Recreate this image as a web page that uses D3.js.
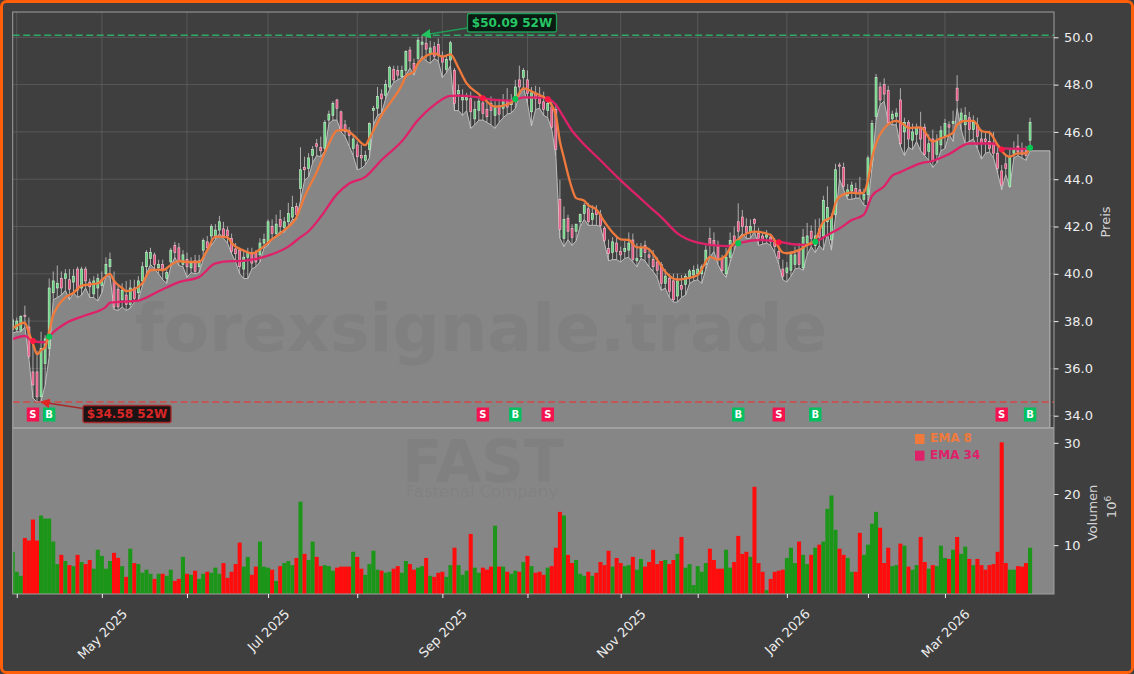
<!DOCTYPE html>
<html>
<head>
<meta charset="utf-8">
<script src="https://cdn.jsdelivr.net/npm/d3@7"></script>
<style>
  html, body { margin: 0; padding: 0; background: #3f3f3f; }
  svg { display: block; font-family: "DejaVu Sans", sans-serif; }
</style>
</head>
<body>
<svg id="chart" width="1134" height="674"></svg>
<script>
// daily bars
var opens = [37.65,37.65,37.6,38.25,37.75,35.85,35.85,34.8,36.2,36.85,
  39.2,39.4,39.8,39.8,39.75,39.65,40.2,39.4,40.2,39.65,
  39.15,39.4,39.5,40.0,40.3,39.7,39.35,38.9,39.1,38.7,
  39.4,39.2,39.7,40.3,40.65,40.8,40.25,40.4,39.8,40.5,
  41.2,41.1,40.4,40.6,40.25,40.55,40.3,41.0,41.35,41.6,
  41.6,41.85,41.9,41.85,41.5,41.05,41.0,40.2,40.7,40.9,
  40.9,40.8,41.3,41.35,42.0,41.7,42.3,41.95,42.2,42.4,
  42.85,43.6,44.5,44.45,45.0,45.5,45.35,45.3,46.5,46.7,
  47.35,46.85,46.3,46.05,45.3,45.45,45.0,44.8,45.25,46.9,
  47.0,47.6,47.55,47.9,48.65,48.6,48.33,48.6,49.46,48.9,
  49.1,49.7,49.75,49.3,49.6,49.7,49.2,48.64,49.04,48.6,
  47.6,47.35,47.35,47.4,46.55,46.9,47.23,46.95,47.2,46.7,
  47.1,47.0,47.3,47.15,47.35,48.2,48.3,48.2,46.85,47.63,
  47.5,47.27,46.9,47.06,46.95,43.15,41.5,42.35,41.92,41.8,
  42.2,42.55,42.75,42.3,42.7,42.5,41.93,41.07,40.9,41.3,
  40.95,40.95,41.0,41.43,40.55,40.72,41.2,40.8,40.6,40.5,
  40.4,39.6,39.8,39.7,39.06,39.5,39.55,39.85,39.95,40.0,
  40.0,40.4,41.5,41.4,41.2,40.6,40.0,40.7,41.6,42.2,
  42.4,42.0,41.75,42.3,41.7,41.6,41.55,41.55,41.4,40.95,
  40.2,40.05,40.15,40.4,41.0,40.25,41.3,41.8,41.2,41.9,
  41.6,42.2,41.43,42.5,44.6,44.5,43.3,43.5,43.6,43.55,
  43.15,43.35,44.75,46.65,47.9,48.0,47.75,46.55,46.65,47.35,
  46.0,46.4,45.65,45.9,46.2,46.2,45.17,45.7,45.05,45.45,
  45.85,46.3,46.35,47.85,46.5,46.3,46.6,46.1,46.3,45.7,
  45.7,45.6,45.5,45.1,44.35,44.65,43.7,45.1,45.4,45.3,45.2,45.65];

var closes = [38.05,38.0,38.2,38.2,36.5,35.3,34.8,36.85,37.25,39.4,
  39.7,39.6,39.4,40.0,39.35,39.9,39.3,40.2,39.7,39.45,
  39.7,39.8,39.75,40.4,40.6,38.6,38.6,39.3,38.7,39.4,
  38.95,39.7,40.3,40.9,40.9,40.4,40.4,40.2,40.05,41.0,
  40.9,40.55,40.8,40.3,40.45,40.1,40.55,41.4,41.1,42.0,
  41.85,42.2,41.6,41.6,40.95,40.85,40.3,40.7,40.9,40.45,
  40.5,41.3,41.45,42.2,41.7,42.1,42.0,42.2,42.55,42.8,
  42.5,44.4,44.4,44.9,45.25,45.38,45.2,46.4,46.75,47.2,
  47.0,46.1,46.0,45.85,45.7,44.95,44.9,45.0,46.35,47.0,
  47.5,47.4,48.0,48.73,48.2,48.4,48.6,49.4,49.0,48.6,
  49.88,49.8,49.5,49.55,49.2,49.25,48.95,49.07,49.77,47.2,
  47.75,47.45,47.45,46.85,46.95,47.3,46.78,46.64,46.9,47.07,
  46.75,47.3,47.05,47.35,47.9,47.9,48.6,47.63,47.65,47.4,
  47.2,46.95,47.2,46.2,45.26,41.88,42.3,41.8,41.54,42.1,
  42.5,42.9,42.2,42.55,42.5,42.05,41.4,40.85,41.35,40.95,
  40.8,41.07,41.3,40.6,40.65,41.07,40.9,40.7,40.3,40.15,
  39.6,39.9,39.25,38.9,39.7,39.35,39.9,40.12,40.15,40.2,
  40.3,41.0,41.2,41.2,40.65,40.13,40.7,41.4,41.3,41.8,
  42.0,41.75,42.0,42.13,41.5,41.4,41.65,41.35,41.15,40.65,
  39.9,40.25,40.8,40.8,40.4,41.55,41.6,41.5,41.6,41.55,
  43.1,42.8,42.4,44.4,44.55,43.7,43.55,43.75,43.4,43.4,
  43.35,44.9,46.35,48.3,47.35,47.6,46.4,46.75,46.8,45.5,
  46.4,45.7,46.0,46.15,45.7,45.05,45.5,44.75,45.6,46.05,
  46.35,46.2,46.45,47.32,46.8,46.7,46.1,46.4,45.8,45.5,
  45.6,45.3,45.1,44.45,43.75,44.45,44.95,45.3,45.15,45.05,45.0,46.4];

var highs = [38.1,38.15,38.25,38.65,38.15,37.2,36.75,37.55,37.4,39.8,
  40.1,40.35,40.1,40.2,40.2,40.2,40.3,40.3,40.3,39.8,
  39.9,40.0,40.1,40.7,40.9,40.1,39.5,39.6,39.7,39.75,
  39.75,39.9,40.5,41.0,41.1,40.9,40.6,40.6,40.3,41.1,
  41.35,41.3,41.0,40.9,40.7,40.8,40.8,41.5,41.6,42.1,
  42.1,42.45,42.2,42.0,41.7,41.3,41.1,41.0,41.1,41.1,
  41.0,41.5,41.7,42.3,42.3,42.5,42.7,42.4,43.0,43.3,
  43.0,45.35,44.95,45.1,45.4,45.7,45.8,46.5,46.9,47.3,
  47.4,46.9,46.5,46.2,45.9,45.6,45.45,45.2,46.4,47.1,
  47.9,47.8,48.2,48.8,48.8,48.8,48.8,49.45,49.6,49.1,
  50.0,50.09,50.0,49.85,49.8,49.95,49.4,49.2,49.85,48.7,
  48.0,47.8,47.65,47.7,47.3,47.5,47.5,47.4,47.5,47.3,
  47.4,47.6,47.85,47.6,48.2,48.8,48.7,48.6,47.9,47.95,
  47.9,47.7,47.4,47.3,47.2,43.97,42.85,42.5,42.1,42.1,
  42.55,43.0,43.0,42.9,42.9,42.7,42.0,41.45,41.55,41.6,
  41.15,41.4,41.75,41.7,41.3,41.3,41.4,41.1,41.0,40.7,
  40.5,40.2,40.0,40.0,40.0,39.95,40.0,40.2,40.35,40.4,
  40.4,41.2,41.95,41.75,41.4,40.8,41.1,41.75,42.0,42.98,
  42.7,42.35,42.3,42.35,41.95,41.75,41.85,41.7,41.5,41.2,
  40.6,40.5,40.95,41.15,41.3,41.9,42.15,42.05,42.3,42.35,
  43.3,43.7,42.55,44.65,44.7,44.7,43.8,43.9,43.85,44.1,
  43.6,45.0,46.5,48.45,48.1,48.27,47.95,46.9,47.0,47.85,
  46.6,46.5,46.35,46.35,46.85,46.35,45.9,46.1,45.9,46.25,
  46.55,46.45,46.9,48.4,47.0,47.05,46.85,46.7,46.6,46.1,
  46.0,46.05,46.0,45.35,44.6,45.0,45.3,45.6,45.9,45.55,45.4,46.6];

var lows = [37.5,37.55,37.55,37.75,36.4,34.75,34.58,34.6,35.3,36.5,
  38.9,39.0,39.1,39.3,38.9,39.2,39.0,39.1,39.4,39.0,
  39.0,38.85,39.2,39.9,39.9,38.5,38.45,38.6,38.45,38.55,
  38.8,38.9,39.5,40.0,40.4,40.2,40.0,39.75,39.6,40.3,
  40.7,40.35,40.3,39.85,40.05,40.0,40.05,40.6,41.0,41.2,
  41.45,41.7,41.5,41.3,40.85,40.5,40.0,39.8,39.8,40.2,
  40.3,40.5,41.1,41.2,41.5,41.6,41.8,41.75,42.0,42.3,
  42.3,43.1,43.95,44.1,44.7,45.0,44.95,45.2,46.35,46.5,
  46.5,46.0,45.8,45.4,45.0,44.4,44.45,44.6,44.9,46.3,
  46.7,46.8,47.4,47.8,48.1,48.2,48.3,48.4,48.7,48.4,
  48.9,49.2,49.0,48.9,49.1,49.0,48.3,48.5,48.8,46.9,
  46.9,46.7,46.9,46.15,46.3,46.5,46.5,46.4,46.3,46.15,
  46.4,46.6,46.75,46.8,47.0,47.55,47.9,47.2,46.25,46.95,
  47.0,46.7,46.6,46.1,45.0,41.5,41.15,41.45,41.2,41.4,
  42.0,42.3,42.05,42.05,42.05,42.0,41.3,40.55,40.6,40.6,
  40.5,40.65,40.7,40.5,40.3,40.65,40.55,40.3,40.1,39.85,
  39.3,39.4,39.0,38.8,38.8,39.0,39.1,39.6,39.7,39.75,
  39.6,40.2,40.7,40.95,40.4,40.05,39.85,40.5,41.0,41.5,
  41.7,41.5,41.5,41.8,41.2,41.25,41.3,41.2,40.9,40.4,
  39.75,39.65,39.9,40.2,40.25,40.15,40.8,41.15,40.9,41.2,
  41.0,41.7,41.0,42.4,44.0,43.55,43.15,43.15,43.2,43.2,
  42.9,42.85,44.5,46.5,47.15,47.3,46.4,46.3,46.3,45.4,
  45.0,45.35,45.25,45.6,45.2,45.0,44.8,44.5,44.7,45.2,
  45.3,45.9,45.6,47.0,46.1,45.5,45.6,45.7,45.3,44.85,
  45.1,45.15,44.9,44.25,43.55,44.2,43.65,44.9,45.0,44.9,44.8,45.2];

// millions of shares
var volumes = [8.7,4.8,4.0,11.4,10.9,15.0,10.9,15.8,15.2,15.2,
  10.7,6.3,8.1,6.9,6.1,5.9,8.1,6.7,6.3,7.1,
  5.4,9.1,7.9,5.4,6.9,8.5,7.5,5.9,3.8,9.3,
  6.5,6.3,4.6,5.2,4.4,3.4,4.4,4.4,4.0,5.2,
  3.0,3.4,7.7,4.4,4.2,5.0,3.4,4.4,4.8,4.6,
  5.6,4.4,6.5,3.6,4.8,6.3,10.5,5.8,7.7,4.2,
  5.8,10.7,5.8,5.6,5.2,3.0,5.9,6.5,6.9,6.1,
  7.5,18.5,8.3,7.1,10.7,7.7,5.9,6.1,5.9,5.0,
  5.6,5.8,5.8,5.8,8.7,7.7,5.4,4.2,6.3,8.9,
  5.2,5.0,4.6,4.8,5.4,5.9,4.6,6.9,6.3,5.2,
  5.6,5.9,7.5,4.0,3.8,4.6,4.8,3.8,6.1,9.5,
  6.1,4.2,5.0,12.2,5.6,4.6,5.6,5.2,5.8,13.8,
  5.8,5.8,4.8,4.4,5.0,4.8,6.7,7.9,5.9,4.6,
  4.8,4.2,5.6,5.9,9.5,16.5,15.8,8.1,6.5,7.1,
  4.4,4.0,4.8,4.0,4.6,6.7,6.1,8.9,5.8,7.5,
  6.5,5.9,6.1,7.7,5.2,7.3,5.8,6.7,9.1,6.3,
  6.9,7.1,6.3,7.1,8.3,11.6,5.6,6.3,2.2,5.9,
  4.8,6.5,9.3,7.1,5.4,5.4,9.1,5.6,6.7,11.8,
  8.3,8.7,7.7,21.4,6.5,4.8,1.2,3.4,4.8,5.0,
  5.2,7.5,9.5,6.5,10.7,8.1,6.3,8.1,9.5,10.1,
  10.7,17.1,19.7,13.0,9.3,8.1,7.5,4.8,4.8,12.4,
  8.1,10.1,14.2,16.5,13.4,6.5,9.5,5.9,6.1,10.3,
  9.9,5.8,5.2,6.1,11.6,6.7,5.4,6.1,5.9,9.9,
  7.5,7.3,9.1,11.6,8.3,9.7,7.3,6.1,7.3,6.1,
  5.2,6.1,6.3,8.7,30.1,6.5,5.2,5.2,5.9,5.8,6.5,9.5];

// moving averages at these bar numbers
var ema8Index = [0,3,4,5,6,7,8,9,10,11,13,15,17,19,21,24,25,27,28,30,32,34,36,37,39,41,43,46,48,50,53,54,57,59,61,64,66,67,70,72,75,78,80,82,84,87,88,91,93,96,97,99,100,104,106,108,110,112,115,117,119,122,124,126,129,132,134,135,136,137,138,139,141,142,144,146,148,150,152,154,156,157,159,161,164,166,169,170,172,174,176,177,179,183,187,188,190,191,194,196,198,200,202,203,204,207,209,210,211,212,213,215,218,220,221,224,227,229,232,233,235,237,239,241,243,245,246,248,250,251];
var ema8Values = [37.7,37.93,37.5,37.05,36.6,36.77,36.9,37.55,38.25,38.6,39.0,39.2,39.5,39.55,39.6,40.0,39.7,39.4,39.27,39.35,39.6,40.15,40.18,40.15,40.37,40.54,40.5,40.5,41.0,41.57,41.54,41.3,40.98,40.86,41.03,41.46,41.7,41.85,42.38,43.26,44.3,45.5,46.05,46.08,45.87,45.44,45.73,46.71,47.2,47.98,48.35,48.55,48.9,49.32,49.18,49.28,48.7,48.05,47.6,47.28,47.07,47.16,47.37,47.84,47.63,47.35,46.7,45.6,44.9,44.2,43.6,43.2,43.09,42.9,42.72,42.2,41.75,41.46,41.43,41.12,41.12,41.03,40.6,40.09,39.76,39.8,39.95,40.2,40.72,40.6,40.79,41.1,41.46,41.78,41.64,41.4,40.9,40.87,41.0,41.22,41.43,42.2,42.4,43.0,43.26,43.43,43.4,43.45,43.96,44.9,45.5,46.15,46.47,46.29,46.17,46.19,45.59,45.73,45.97,46.3,46.47,46.47,46.04,45.97,45.45,45.02,44.95,45.09,45.09,45.35];
var ema34Index = [0,3,5,8,9,13,18,23,24,31,36,41,46,50,54,56,62,68,71,73,76,80,83,87,91,96,100,104,108,110,115,119,123,126,131,134,136,138,140,145,150,155,158,160,164,169,176,179,184,189,192,196,199,201,204,207,210,212,215,217,219,224,227,231,236,242,244,250];
var ema34Values = [37.24,37.37,37.15,37.1,37.34,37.9,38.25,38.6,38.78,38.87,39.26,39.65,39.87,40.44,40.54,40.54,40.72,41.15,41.55,41.8,42.41,43.37,43.82,44.1,44.81,45.6,46.5,47.14,47.52,47.53,47.46,47.35,47.32,47.46,47.45,47.15,46.6,46.05,45.65,44.8,43.95,43.17,42.7,42.4,41.71,41.32,41.17,41.29,41.43,41.36,41.26,41.22,41.43,41.64,41.92,42.27,42.5,43.3,43.7,44.15,44.3,44.67,44.77,45.06,45.51,45.51,45.3,45.28];

// buy / sell crossings
var signalIndex = [5,9,116,124,132,179,189,198,244,251];
var signalType = ["S","B","S","B","S","B","S","B","S","B"];
var signalPrice = [37.16,37.34,47.42,47.39,47.38,41.29,41.33,41.36,45.26,45.33];
var signalRowPrice = 34.05;

var monthIndex = [1,22,43,63,85,106,127,150,169,191,211,230];
var monthLabels = ["","May 2025","","Jul 2025","","Sep 2025","","Nov 2025","","Jan 2026","","Mar 2026"];
var priceTicks = [34,36,38,40,42,44,46,48,50];
var volumeTicks = [10,20,30];
var high52 = 50.09, low52 = 34.58;
var areaEndIndex = 255.9;

var bg = "#3f3f3f", panel = "#868686", frame = "#a0a0a0", tickColor = "#eeeeee";
var red = "#ff1744", orange = "#f07a3c", magenta = "#de2169";
var plotLeft = 12.7, plotRight = 1054, plotTop = 12, plotMid = 428, plotBottom = 594;

var svg = d3.select("#chart");
var x = d3.scaleLinear().domain([0, 256.9]).range([plotLeft, plotRight]);
var y = d3.scaleLinear().domain([33.48, 51.07]).range([plotMid, plotTop]);
var yv = d3.scaleLinear().domain([0.45, 32.9]).range([plotBottom, plotMid]);
var barW = x(1) - x(0);

svg.append("rect").attr("width", 1134).attr("height", 674).attr("fill", bg);

svg.append("clipPath").attr("id", "plot").append("rect")
    .attr("x", plotLeft).attr("y", plotTop).attr("width", plotRight - plotLeft).attr("height", plotBottom - plotTop);

// grid
var grid = svg.append("g").attr("stroke", "#636363").attr("stroke-width", 0.7);
grid.selectAll(".gy").data(priceTicks).enter().append("line")
    .attr("x1", plotLeft).attr("x2", plotRight)
    .attr("y1", function(d) { return y(d); }).attr("y2", function(d) { return y(d); });
grid.selectAll(".gx").data(monthIndex).enter().append("line")
    .attr("y1", plotTop).attr("y2", plotMid)
    .attr("x1", function(d) { return x(d); }).attr("x2", function(d) { return x(d); });

// price area follows the lows and runs past the last bar
var areaData = lows.map(function(d, i) { return [i, d]; }).concat([[areaEndIndex, lows[lows.length - 1]]]);
svg.append("path")
    .datum(areaData)
    .attr("clip-path", "url(#plot)")
    .attr("fill", panel)
    .attr("stroke", "#bdbdbd")
    .attr("stroke-width", 1)
    .attr("d", d3.area()
        .x(function(d) { return x(d[0]); })
        .y0(plotMid)
        .y1(function(d) { return y(d[1]); }));

// volume panel
svg.append("rect")
    .attr("x", plotLeft).attr("y", plotMid).attr("width", plotRight - plotLeft).attr("height", plotBottom - plotMid)
    .attr("fill", panel);

// watermarks
var marks = svg.append("g").attr("fill", "#3c3c3c").attr("fill-opacity", 0.08).attr("text-anchor", "middle");
marks.append("text").attr("x", 481).attr("y", 351).attr("font-size", 66.5).attr("font-weight", "bold").text("forexsignale.trade");
marks.append("text").attr("x", 483).attr("y", 482).attr("font-size", 59).attr("font-weight", "bold").text("FAST");
marks.append("text").attr("x", 482).attr("y", 497).attr("font-size", 16.5).text("Fastenal Company");

// volume bars
svg.append("g").attr("clip-path", "url(#plot)")
    .selectAll("rect").data(volumes).enter().append("rect")
    .attr("x", function(d, i) { return x(i) - barW / 2; })
    .attr("width", barW)
    .attr("y", function(d) { return yv(d); })
    .attr("height", function(d) { return plotBottom - yv(d); })
    .attr("fill", function(d, i) { return closes[i] >= opens[i] ? "#1c9618" : "#ff0d0d"; });

// 52 week lines
svg.append("line").attr("x1", plotLeft).attr("x2", plotRight)
    .attr("y1", y(high52)).attr("y2", y(high52))
    .attr("stroke", "#2eaa66").attr("stroke-width", 1.6).attr("stroke-dasharray", "7,3.5");
svg.append("line").attr("x1", plotLeft).attr("x2", plotRight)
    .attr("y1", y(low52)).attr("y2", y(low52))
    .attr("stroke", "#d64545").attr("stroke-width", 1.6).attr("stroke-dasharray", "7,3.5");

// candles
var candles = svg.append("g").attr("clip-path", "url(#plot)");
candles.selectAll("line").data(closes).enter().append("line")
    .attr("x1", function(d, i) { return x(i); })
    .attr("x2", function(d, i) { return x(i); })
    .attr("y1", function(d, i) { return y(highs[i]); })
    .attr("y2", function(d, i) { return y(lows[i]); })
    .attr("stroke", "#c9c9c9").attr("stroke-width", 0.8);
candles.selectAll("rect").data(closes).enter().append("rect")
    .attr("x", function(d, i) { return x(i) - 1; })
    .attr("width", 2)
    .attr("y", function(d, i) { return y(Math.max(opens[i], d)); })
    .attr("height", function(d, i) { return Math.max(1, Math.abs(y(opens[i]) - y(d))); })
    .attr("fill", function(d, i) { return d >= opens[i] ? "#5fd37a" : "#ea4f7f"; })
    .attr("stroke", function(d, i) { return d >= opens[i] ? "#d5f2da" : "#f7cad7"; })
    .attr("stroke-width", 0.6);

// EMA lines
function drawEma(index, values, color) {
    svg.append("path")
        .datum(values)
        .attr("fill", "none")
        .attr("stroke", color)
        .attr("stroke-width", 2.3)
        .attr("d", d3.line()
            .curve(d3.curveMonotoneX)
            .x(function(d, i) { return x(index[i]); })
            .y(function(d) { return y(d); }));
}
drawEma(ema34Index, ema34Values, magenta);
drawEma(ema8Index, ema8Values, orange);

// crossing dots and S/B boxes
svg.selectAll(".dot").data(signalIndex).enter().append("circle")
    .attr("cx", function(d) { return x(d); })
    .attr("cy", function(d, i) { return y(signalPrice[i]); })
    .attr("r", 3)
    .attr("fill", function(d, i) { return signalType[i] == "B" ? "#00c853" : red; });
svg.selectAll(".sigbox").data(signalIndex).enter().append("rect")
    .attr("x", function(d) { return x(d) - 6.2; })
    .attr("y", y(signalRowPrice) - 7)
    .attr("width", 12.4).attr("height", 14)
    .attr("fill", function(d, i) { return signalType[i] == "B" ? "#00c060" : "#f5134f"; });
svg.selectAll(".siglabel").data(signalIndex).enter().append("text")
    .attr("x", function(d) { return x(d); })
    .attr("y", y(signalRowPrice) + 3.6)
    .attr("text-anchor", "middle")
    .attr("font-size", 10).attr("font-weight", "bold").attr("fill", "#ffffff")
    .text(function(d, i) { return signalType[i]; });

// 52 week annotations
svg.append("defs").selectAll("marker").data([["headG", "#22c55e"], ["headR", "#e02424"]]).enter().append("marker")
    .attr("id", function(d) { return d[0]; })
    .attr("viewBox", "0 0 10 10").attr("refX", 9).attr("refY", 5)
    .attr("markerWidth", 6).attr("markerHeight", 6).attr("orient", "auto")
    .append("path").attr("d", "M0,0L10,5L0,10z").attr("fill", function(d) { return d[1]; });

function note(boxX, boxY, boxW, boxH, fromX, fromY, toX, toY, fillColor, lineColor, textColor, head, label) {
    svg.append("line").attr("x1", fromX).attr("y1", fromY).attr("x2", toX).attr("y2", toY)
        .attr("stroke", lineColor).attr("stroke-width", 1.6).attr("marker-end", "url(#" + head + ")");
    svg.append("rect").attr("x", boxX).attr("y", boxY).attr("width", boxW).attr("height", boxH).attr("rx", 2)
        .attr("fill", fillColor).attr("stroke", lineColor).attr("stroke-width", 1.3);
    svg.append("text").attr("x", boxX + boxW / 2).attr("y", boxY + boxH / 2 + 4.3)
        .attr("text-anchor", "middle").attr("font-size", 12).attr("font-weight", "bold")
        .attr("fill", textColor).text(label);
}
note(467.5, 13.5, 89, 18.5, 467, 28, x(101), y(high52), "#0b1a12", "#1f9d55", "#26c765", "headG", "$" + high52 + " 52W");
note(83, 405.5, 88, 17, 83, 408.5, x(7), y(low52), "#1c1414", "#a82a2a", "#d92626", "headR", "$" + low52 + " 52W");

// legend
var legend = svg.append("g").attr("font-size", 12).attr("font-weight", "bold");
[["EMA 8", orange, 439], ["EMA 34", magenta, 455.7]].forEach(function(e) {
    legend.append("rect").attr("x", 915).attr("y", e[2] - 5).attr("width", 9.5).attr("height", 10).attr("fill", e[1]);
    legend.append("text").attr("x", 930).attr("y", e[2] + 3).attr("fill", e[1]).text(e[0]);
});

// frame
var frameG = svg.append("g").attr("stroke", frame).attr("fill", "none");
frameG.append("rect").attr("x", plotLeft).attr("y", plotTop).attr("width", plotRight - plotLeft).attr("height", plotBottom - plotTop).attr("stroke-width", 1);
frameG.append("line").attr("x1", plotLeft).attr("x2", plotRight).attr("y1", plotMid).attr("y2", plotMid).attr("stroke-width", 2);

// axes
function styleAxis(g) {
    g.select(".domain").remove();
    g.selectAll("line").attr("stroke", "#eeeeee").attr("stroke-width", 1);
    g.selectAll("text").attr("fill", tickColor).attr("font-size", 13).attr("font-family", "DejaVu Sans");
}
svg.append("g").attr("transform", "translate(" + plotRight + ",0)")
    .call(d3.axisRight(y).tickValues(priceTicks).tickFormat(d3.format(".1f")).tickSize(4.5).tickPadding(5.5))
    .call(styleAxis);
svg.append("g").attr("transform", "translate(" + plotRight + ",0)")
    .call(d3.axisRight(yv).tickValues(volumeTicks).tickSize(4.5).tickPadding(5.5))
    .call(styleAxis);

var xAxisG = svg.append("g").attr("transform", "translate(0," + plotBottom + ")")
    .call(d3.axisBottom(x).tickValues(monthIndex)
        .tickFormat(function(d, i) { return monthLabels[i]; }).tickSize(4))
    .call(styleAxis);
xAxisG.selectAll("text")
    .attr("text-anchor", "middle")
    .attr("dy", 0)
    .attr("y", 0)
    .attr("transform", function() {
        var w = this.getComputedTextLength();
        return "translate(0," + (13 + (w + 13) * 0.3535) + ") rotate(-45) translate(0,4.5)";
    });

// axis titles
var titles = svg.append("g").attr("fill", "#d4d4d4").attr("font-size", 13).attr("text-anchor", "middle");
titles.append("text").attr("transform", "translate(1110,222) rotate(-90)").text("Preis");
titles.append("text").attr("transform", "translate(1097,513) rotate(-90)").text("Volumen");
var power = titles.append("text").attr("transform", "translate(1116,507) rotate(-90)");
power.append("tspan").text("10");
power.append("tspan").attr("dy", -5).attr("font-size", 9).text("6");

// outer border
svg.append("rect").attr("x", 1.5).attr("y", 1.5).attr("width", 1131).attr("height", 671).attr("rx", 5)
    .attr("fill", "none").attr("stroke", "#ff5f0a").attr("stroke-width", 3);
</script>
</body>
</html>
